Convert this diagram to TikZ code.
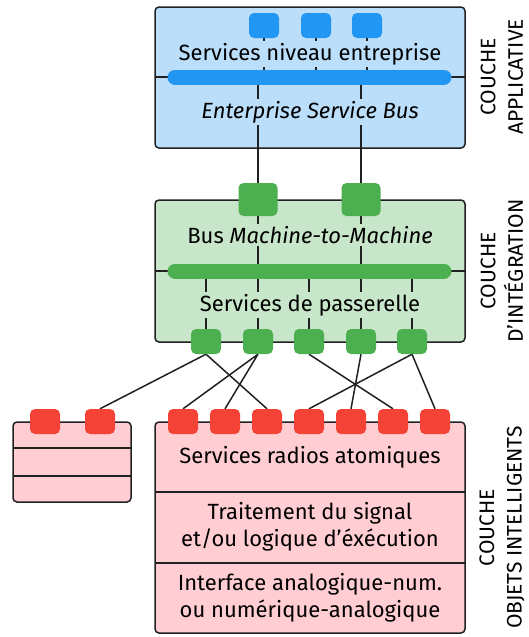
\documentclass[tikz,border=0pt]{standalone}
\usepackage{fontspec}
\setmainfont{Fira Sans}
\usetikzlibrary{backgrounds}
\definecolor{appfill}{HTML}{BBDEFB}
\definecolor{appport}{HTML}{2196F3}
\definecolor{intfill}{HTML}{C8E6C9}
\definecolor{intport}{HTML}{4CAF50}
\definecolor{objfill}{HTML}{FFCDD2}
\definecolor{objport}{HTML}{F44336}
\definecolor{ink}{HTML}{212121}
\pgfdeclarelayer{back}
\pgfdeclarelayer{wires}
\pgfsetlayers{back,wires,main}
\tikzset{
  layerbox/.style={draw=ink, line width=1.5pt, rounded corners=4pt},
  port/.style={fill=#1, rounded corners=5pt, minimum width=30pt, minimum height=25pt, inner sep=0pt},
  bigport/.style={port=#1, minimum width=39pt, minimum height=33pt},
  wire/.style={draw=ink, line width=1.5pt},
  bus/.style={draw=#1, line width=15pt, line cap=round},
  lbl/.style={fill=#1, inner sep=2pt},
  couche/.style={rotate=90, align=center, font=\fontsize{21}{27.5}\selectfont}
}
\begin{document}
\begin{tikzpicture}[x=1pt, y=-1pt, font=\fontsize{22}{27}\selectfont]
\useasboundingbox (0,0) rectangle (528,637);
% layer boxes
\begin{pgfonlayer}{back}
\filldraw[layerbox, fill=appfill] (155,7) rectangle (465,148);
\draw[wire] (155,77) -- (465,77);
\filldraw[layerbox, fill=intfill] (155,200) rectangle (465,342);
\draw[wire] (155,271) -- (465,271);
\filldraw[layerbox, fill=objfill] (155,422) rectangle (465,633);
\draw[wire] (155,492) -- (465,492);
\draw[wire] (155,563) -- (465,563);
\filldraw[layerbox, fill=objfill] (13,422) rectangle (131,502);
\draw[wire] (13,448) -- (131,448);
\draw[wire] (13,476) -- (131,476);
\end{pgfonlayer}
\coordinate (abus) at (310,77);
\coordinate (mbus) at (310,271);
% ports
\foreach \i/\x in {1/264, 2/316, 3/367}
  \node[port=appport] (a\i) at (\x,25.5) {};
\foreach \i/\x in {1/258, 2/361}
  \node[bigport=intport] (m\i) at (\x,199.5) {};
\foreach \i/\x in {1/206, 2/258, 3/309, 4/361, 5/412}
  \node[port=intport] (p\i) at (\x,341.5) {};
\foreach \i in {1,...,7}
  \node[port=objport] (o\i) at ({141+42*\i},421.5) {};
\foreach \i/\x in {1/45, 2/100}
  \node[port=objport] (l\i) at (\x,421.5) {};
% wires
\begin{pgfonlayer}{wires}
\foreach \i in {1,2,3}
  \draw[wire] (a\i.south) -- (a\i |- abus);
\foreach \i in {1,2}
  \draw[wire] (m\i |- abus) -- (m\i.north) (m\i.south) -- (m\i |- mbus);
\foreach \i in {1,...,5}
  \draw[wire] (p\i |- mbus) -- (p\i.north);
\draw[wire] (p1.south) -- (l2.north) (p1.south) -- (o3.north);
\draw[wire] (p2.south) -- (o1.north) (p2.south) -- (o2.north);
\draw[wire] (p3.south) -- (o6.north);
\draw[wire] (p4.south) -- (o5.north);
\draw[wire] (p5.south) -- (o4.north) (p5.south) -- (o7.north);
\end{pgfonlayer}
% buses
\draw[bus=appport] (175,77) -- (444,77);
\draw[bus=intport] (175,271) -- (444,271);
% texts
\node[lbl=appfill] (sne) at (310,54) {Services niveau entreprise};
\node[lbl=appfill] (esb) at (310,112) {\itshape Enterprise Service Bus};
\node[lbl=intfill] (m2m) at (310,235) {Bus \textit{Machine-to-Machine}};
\node[lbl=intfill] (gw) at (310,305) {Services de passerelle};
\node (radio) at (310,457) {Services radios atomiques};
\node[align=center] (signal) at (310,526.5) {Traitement du signal\\et/ou logique d’éxécution};
\node[align=center] (adc) at (310,597.5) {Interface analogique-num.\\ou numérique-analogique};
\node[couche] (capp) at (502,77) {COUCHE\\APPLICATIVE};
\node[couche] (cint) at (502,271) {COUCHE\\D’INTÉGRATION};
\node[couche] (cobj) at (502,527.5) {COUCHE\\OBJETS INTELLIGENTS};
\end{tikzpicture}
\end{document}
